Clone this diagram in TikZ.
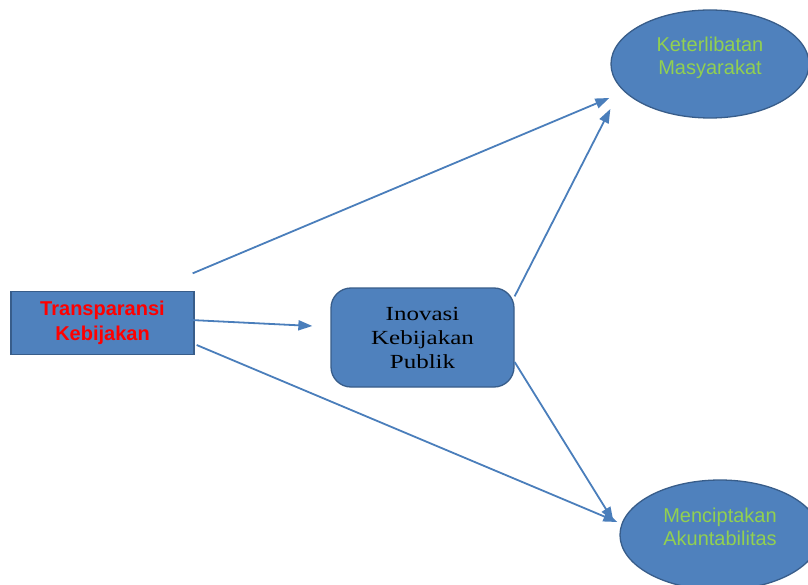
\documentclass[tikz,border=0pt]{standalone}
\usepackage{fontspec}
\usepackage{tikz}
\usetikzlibrary{arrows.meta}
\usetikzlibrary{shapes.geometric}
\setmainfont{Liberation Sans}
\newfontfamily\inovfont[FakeStretch=1.25]{Liberation Serif}
\definecolor{boxblue}{HTML}{4F81BD}
\definecolor{boxline}{HTML}{385D8A}
\definecolor{arrblue}{HTML}{4A7EBB}
\definecolor{textgreen}{HTML}{92D050}

\begin{document}
\begin{tikzpicture}[x=1pt,y=-1pt,
        blok/.style={draw=boxline,line width=1.3pt,fill=boxblue,inner sep=0pt,align=center},
        oval/.style={blok,ellipse},
        hijau/.style={text=textgreen,align=center,font=\fontsize{20}{23.5}\selectfont},
        panah/.style={draw=arrblue,line width=1.8pt,-{Triangle[length=14pt,width=10pt]}}]
        \useasboundingbox (0,0) rectangle (808,585);

        \node[blok,minimum width=183pt,minimum height=63pt,text=red,
              font=\bfseries\fontsize{20}{25}\selectfont] (trans) at (102.5,323) {Transparansi\\Kebijakan};
        \node[blok,rounded corners=20pt,minimum width=183pt,minimum height=99pt,
              font=\inovfont\fontsize{20}{24}\selectfont] (inov) at (422.5,337.5) {Inovasi\\Kebijakan\\Publik};
        \node[oval,minimum width=198pt,minimum height=108pt] (kelib) at (710,64) {};
        \node[oval,minimum width=200pt,minimum height=110pt] (akun) at (720,535) {};
        \node[hijau] (kelibteks) at ([yshift=6pt]kelib.center) {Keterlibatan\\Masyarakat};
        \node[hijau] (akunteks) at ([yshift=8pt]akun.center) {Menciptakan\\Akuntabilitas};

        \draw[panah] ([shift={(-2,-17.5)}]trans.north east) -- ([shift={(-1,34)}]kelib.west);
        \draw[panah] ([shift={(-4,-3)}]trans.east) -- ([shift={(-18,-11.5)}]inov.west);
        \draw[panah] ([shift={(2,22)}]trans.east) -- ([shift={(-2,-13)}]akun.west);
        \draw[panah] ([shift={(0,9)}]inov.north east) -- ([shift={(0,45)}]kelib.west);
        \draw[panah] ([shift={(0,24.5)}]inov.east) -- ([shift={(-6,-14)}]akun.west);
    \end{tikzpicture}
\end{document}
